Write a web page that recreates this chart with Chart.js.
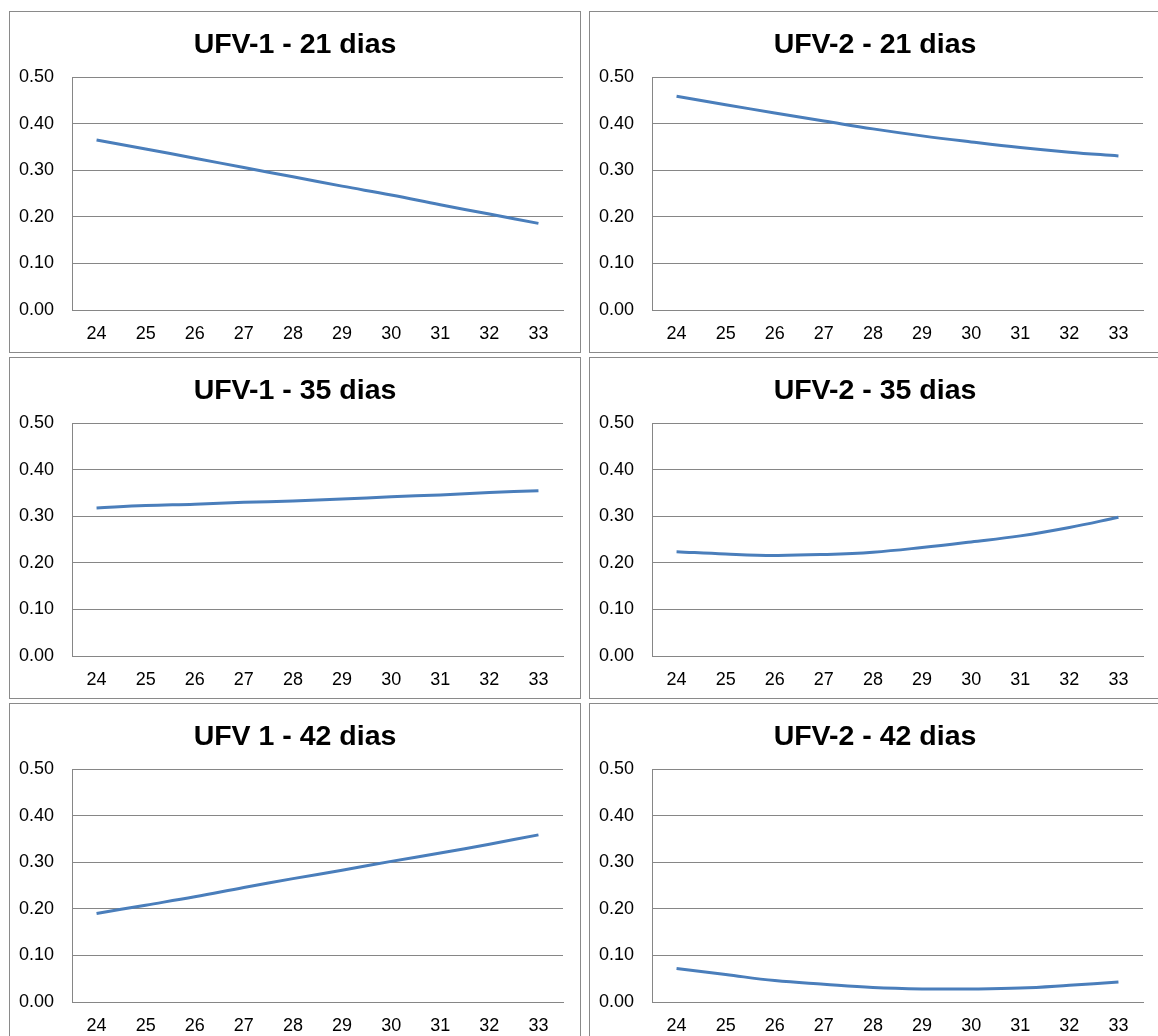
<!DOCTYPE html>
<html lang="pt">
<head>
  <meta charset="UTF-8" />
  <title>UFV</title>
  <script src="https://cdn.jsdelivr.net/npm/chart.js"></script>
  <style>
    html, body { margin: 0; padding: 0; background: #fff; }
    body { width: 1158px; height: 1036px; overflow: hidden; position: relative; font-family: "Liberation Sans", Arial, sans-serif; }
    .panel { position: absolute; width: 570px; height: 340px; border: 1px solid #8a8a8a; background: #fff; }
    .panel canvas { display: block; }
  </style>
</head>
<body>
  <div class="panel" style="left:9px; top:11px;"><canvas id="c1" width="570" height="340"></canvas></div>
  <div class="panel" style="left:589px; top:11px;"><canvas id="c2" width="570" height="340"></canvas></div>
  <div class="panel" style="left:9px; top:357px;"><canvas id="c3" width="570" height="340"></canvas></div>
  <div class="panel" style="left:589px; top:357px;"><canvas id="c4" width="570" height="340"></canvas></div>
  <div class="panel" style="left:9px; top:703px;"><canvas id="c5" width="570" height="340"></canvas></div>
  <div class="panel" style="left:589px; top:703px;"><canvas id="c6" width="570" height="340"></canvas></div>

<script>
// x categories (temperatura) and y axis range
const days = ['24', '25', '26', '27', '28', '29', '30', '31', '32', '33'];
const yMin = 0, yMax = 0.5, yStep = 0.1;

// values
const ufv1_21 = [0.365, 0.346, 0.326, 0.306, 0.286, 0.266, 0.247, 0.226, 0.206, 0.186];
const ufv2_21 = [0.459, 0.441, 0.423, 0.406, 0.389, 0.374, 0.361, 0.349, 0.339, 0.331];
const ufv1_35 = [0.318, 0.323, 0.326, 0.330, 0.333, 0.337, 0.342, 0.346, 0.351, 0.355];
const ufv2_35 = [0.224, 0.219, 0.216, 0.218, 0.223, 0.233, 0.245, 0.258, 0.276, 0.298];
const ufv1_42 = [0.190, 0.208, 0.226, 0.246, 0.265, 0.283, 0.302, 0.320, 0.339, 0.359];
const ufv2_42 = [0.072, 0.059, 0.046, 0.038, 0.031, 0.028, 0.028, 0.030, 0.036, 0.043];

const titles = ['UFV-1 - 21 dias', 'UFV-2 - 21 dias', 'UFV-1 - 35 dias', 'UFV-2 - 35 dias', 'UFV 1 - 42 dias', 'UFV-2 - 42 dias'];
const series = [ufv1_21, ufv2_21, ufv1_35, ufv2_35, ufv1_42, ufv2_42];

const gridColor = '#868686';
const lineColor = '#4a7ebb';
const font = 'Liberation Sans, Arial, sans-serif';

function makeChart(id, title, values) {
  return new Chart(document.getElementById(id), {
    type: 'line',
    data: {
      labels: days,
      datasets: [{
        data: values,
        borderColor: lineColor,
        borderWidth: 3,
        pointRadius: 0,
        tension: 0.4,
        fill: false
      }]
    },
    options: {
      responsive: false,
      animation: false,
      layout: { padding: 0 },
      plugins: {
        legend: { display: false },
        tooltip: { enabled: false },
        title: {
          display: true,
          text: title,
          color: '#000',
          font: { family: font, size: 28.5, weight: 'bold', lineHeight: 1.2 },
          padding: { top: 16, bottom: 15 }
        }
      },
      scales: {
        x: {
          offset: true,
          grid: { display: false, drawTicks: false },
          border: { display: true, color: gridColor, width: 1 },
          ticks: { color: '#000', padding: 13, maxRotation: 0, font: { family: font, size: 18 } },
          afterFit: s => { s.height = 42; }
        },
        y: {
          min: yMin,
          max: yMax,
          grid: { color: gridColor, lineWidth: 1, drawTicks: false },
          border: { display: true, color: gridColor, width: 1 },
          ticks: {
            stepSize: yStep,
            color: '#000',
            padding: 18,
            font: { family: font, size: 18 },
            callback: v => v.toFixed(2)
          },
          afterFit: s => { s.width = 62; }
        },
        // empty strip on the right so the title stays centred on the whole panel
        yRight: {
          position: 'right',
          grid: { display: false, drawTicks: false },
          border: { display: false },
          ticks: { display: false },
          afterFit: s => { s.width = 17; }
        }
      }
    }
  });
}

titles.forEach((t, i) => makeChart('c' + (i + 1), t, series[i]));
</script>
</body>
</html>
